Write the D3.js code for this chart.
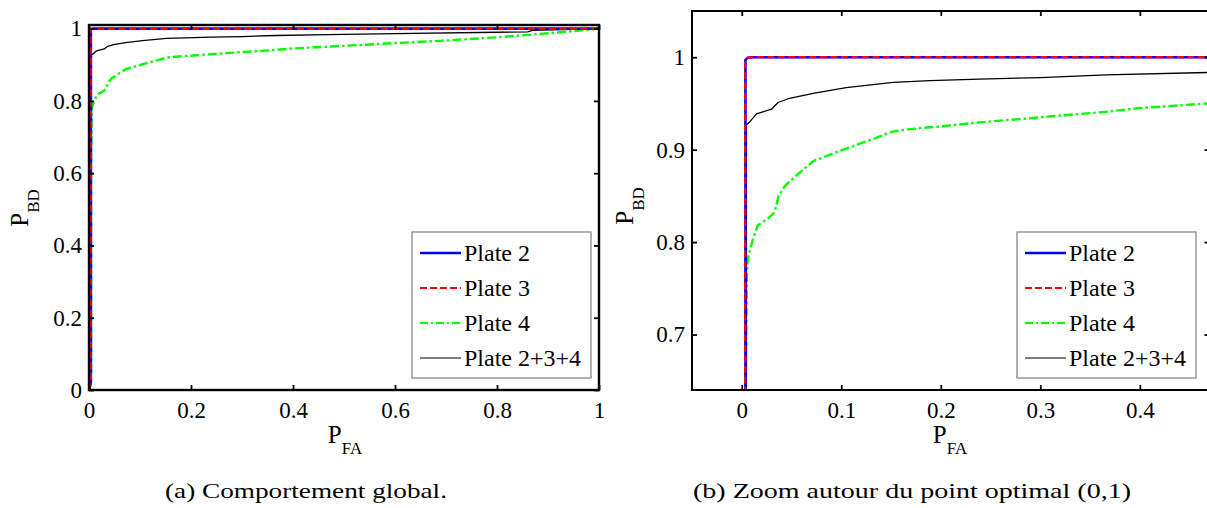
<!DOCTYPE html>
<html>
<head>
<meta charset="utf-8">
<script src="https://cdn.jsdelivr.net/npm/d3@7"></script>
<style>
  html, body { margin: 0; padding: 0; background: #fff; }
  svg { display: block; }
</style>
</head>
<body>
<svg id="chart" width="1207" height="508"></svg>
<script>
// ---------------- DATA ----------------
const seriesNames = ["Plate 2", "Plate 3", "Plate 4", "Plate 2+3+4"];

const plate2X = [0, 0.0037, 0.0037, 0.0037, 0.006, 0.010, 0.020, 0.5, 1];
const plate2Y = [0, 0.020, 0.900, 0.997, 0.9995, 1.000, 1.000, 1.000, 1];

const plate3X = [0, 0.0035, 0.0035, 0.0035, 0.006, 0.010, 0.020, 0.5, 1];
const plate3Y = [0, 0.020, 0.900, 0.997, 0.9995, 1.000, 1.000, 1.000, 1];

const plate4X = [0, 0.004, 0.004, 0.0045, 0.005, 0.006, 0.0103, 0.016, 0.0256, 0.033, 0.037, 0.0432, 0.0485,
                 0.0717, 0.1018, 0.132, 0.152, 0.169, 0.2057, 0.239, 0.300, 0.366, 0.400, 0.468,
                 0.600, 0.700, 0.800, 0.900, 0.950, 1];
const plate4Y = [0, 0.050, 0.640, 0.700, 0.760, 0.782, 0.800, 0.818, 0.825, 0.832, 0.850, 0.8605, 0.866,
                 0.8875, 0.900, 0.9115, 0.9197, 0.9222, 0.9258, 0.9295, 0.935, 0.941, 0.945, 0.950,
                 0.960, 0.967, 0.976, 0.987, 0.993, 1];

const plateAllX = [0, 0.0047, 0.0047, 0.008, 0.0148, 0.0298, 0.0365, 0.048, 0.0717, 0.105, 0.152, 0.189,
                   0.239, 0.300, 0.366, 0.468, 0.600, 0.800, 0.860, 0.870, 0.950, 1];
const plateAllY = [0, 0.050, 0.927, 0.930, 0.9387, 0.9438, 0.951, 0.9556, 0.961, 0.967, 0.9728, 0.9746,
                   0.9763, 0.978, 0.981, 0.9835, 0.986, 0.990, 0.991, 0.995, 0.998, 1];

// tick values and labels
const leftXTicks = [0, 0.2, 0.4, 0.6, 0.8, 1];
const leftXLabels = ["0", "0.2", "0.4", "0.6", "0.8", "1"];
const leftYTicks = [0, 0.2, 0.4, 0.6, 0.8, 1];
const leftYLabels = ["0", "0.2", "0.4", "0.6", "0.8", "1"];
const rightXTicks = [0, 0.1, 0.2, 0.3, 0.4];
const rightXLabels = ["0", "0.1", "0.2", "0.3", "0.4"];
const rightYTicks = [0.7, 0.8, 0.9, 1];
const rightYLabels = ["0.7", "0.8", "0.9", "1"];

const captions = ["(a) Comportement global.", "(b) Zoom autour du point optimal (0,1)"];

// ---------------- STYLES ----------------
const FONT = '"Liberation Serif", "Times New Roman", Tinos, serif';
const styles = [
  { color: "#0000ff", width: 2.6, dash: null },
  { color: "#ff0000", width: 2.2, dash: "7,3.5" },
  { color: "#00ff00", width: 2.4, dash: "9,3,2.5,3" },
  { color: "#000000", width: 1.3, dash: null }
];
const legendStyles = [
  { color: "#0000ff", width: 2.4, dash: null },
  { color: "#ff0000", width: 1.8, dash: "7,3" },
  { color: "#00ff00", width: 1.8, dash: "8,3,2,3" },
  { color: "#000000", width: 1.2, dash: null }
];

const seriesData = [
  d3.zip(plate2X, plate2Y),
  d3.zip(plate3X, plate3Y),
  d3.zip(plate4X, plate4Y),
  d3.zip(plateAllX, plateAllY)
];

const svg = d3.select("#chart");

function panel(cfg) {
  const x = d3.scaleLinear().domain(cfg.xDomain).range([cfg.left, cfg.right]);
  const y = d3.scaleLinear().domain(cfg.yDomain).range([cfg.bottom, cfg.top]);
  const g = svg.append("g");
  const clipId = "clip" + cfg.id;
  svg.append("clipPath").attr("id", clipId).append("rect")
    .attr("x", cfg.left).attr("y", cfg.top)
    .attr("width", cfg.right - cfg.left).attr("height", cfg.bottom - cfg.top);

  const line = d3.line().x(d => x(d[0])).y(d => y(d[1]));
  const plot = g.append("g").attr("clip-path", `url(#${clipId})`);
  [2, 3, 0, 1].forEach(i => {
    plot.append("path")
      .datum(seriesData[i])
      .attr("d", line)
      .attr("fill", "none")
      .attr("stroke", styles[i].color)
      .attr("stroke-width", styles[i].width)
      .attr("stroke-dasharray", styles[i].dash)
      .attr("stroke-linejoin", "round");
  });

  const tickLen = -5;
  const styleAxis = sel => {
    sel.select(".domain").remove();
    sel.selectAll(".tick line").attr("stroke", "#000").attr("stroke-width", 1.8);
    sel.selectAll(".tick text").attr("font-size", null)
      .style("font-size", cfg.tickFont + "px").style("font-family", FONT).attr("fill", "#000");
  };
  g.append("g").attr("transform", `translate(0,${cfg.bottom})`)
    .call(d3.axisBottom(x).tickValues(cfg.xTicks).tickFormat((d, i) => cfg.xLabels[i])
      .tickSizeInner(tickLen).tickSizeOuter(0).tickPadding(12))
    .call(styleAxis);
  g.append("g").attr("transform", `translate(0,${cfg.top})`)
    .call(d3.axisTop(x).tickValues(cfg.xTicks).tickFormat("").tickSizeInner(tickLen).tickSizeOuter(0))
    .call(styleAxis);
  g.append("g").attr("transform", `translate(${cfg.left},0)`)
    .call(d3.axisLeft(y).tickValues(cfg.yTicks).tickFormat((d, i) => cfg.yLabels[i])
      .tickSizeInner(tickLen).tickSizeOuter(0).tickPadding(7))
    .call(styleAxis);
  g.append("g").attr("transform", `translate(${cfg.right},0)`)
    .call(d3.axisRight(y).tickValues(cfg.yTicks).tickFormat("").tickSizeInner(tickLen).tickSizeOuter(0))
    .call(styleAxis);

  g.append("rect")
    .attr("x", cfg.left).attr("y", cfg.top)
    .attr("width", cfg.right - cfg.left).attr("height", cfg.bottom - cfg.top)
    .attr("fill", "none").attr("stroke", "#000").attr("stroke-width", cfg.boxWidth);

  const lg = g.append("g");
  lg.append("rect")
    .attr("x", cfg.legX).attr("y", cfg.legY).attr("width", cfg.legW).attr("height", cfg.legH)
    .attr("fill", "#fff").attr("stroke", "#808080").attr("stroke-width", 1.2);
  seriesNames.forEach((name, i) => {
    const cy = cfg.legY + 21 + i * 35;
    lg.append("line")
      .attr("x1", cfg.legX + 8).attr("x2", cfg.legX + 49)
      .attr("y1", cy).attr("y2", cy)
      .attr("stroke", legendStyles[i].color)
      .attr("stroke-width", legendStyles[i].width)
      .attr("stroke-dasharray", legendStyles[i].dash);
    lg.append("text")
      .attr("x", cfg.legX + 52).attr("y", cy).attr("dy", "0.34em")
      .style("font-family", FONT).style("font-size", "24px")
      .text(name);
  });

  const xl = svg.append("text")
    .attr("x", cfg.xLabX).attr("y", cfg.xLabY)
    .style("font-family", FONT).style("font-size", "25px")
    .attr("text-anchor", "middle");
  xl.append("tspan").text("P");
  xl.append("tspan").attr("dy", 11).style("font-size", "17px").text("FA");

  const yl = svg.append("text")
    .attr("transform", `translate(${cfg.yLabX},${cfg.yLabY}) rotate(-90)`)
    .style("font-family", FONT).style("font-size", "25px")
    .attr("text-anchor", "middle");
  yl.append("tspan").text("P");
  yl.append("tspan").attr("dy", 11).style("font-size", "17px").text("BD");

  svg.append("text")
    .attr("x", cfg.capX).attr("y", 498)
    .style("font-family", FONT).style("font-size", "22px")
    .attr("text-anchor", "middle")
    .attr("textLength", cfg.capW).attr("lengthAdjust", "spacingAndGlyphs")
    .text(cfg.caption);
}

panel({
  id: "a", xDomain: [0, 1], yDomain: [0, 1.01],
  left: 89, right: 599, top: 25, bottom: 390, boxWidth: 2.4,
  xTicks: leftXTicks, xLabels: leftXLabels, yTicks: leftYTicks, yLabels: leftYLabels,
  tickFont: 23,
  legX: 412, legY: 232, legW: 179, legH: 146,
  xLabX: 345, xLabY: 443, yLabX: 28, yLabY: 208,
  capX: 306, capW: 282, caption: captions[0]
});

panel({
  id: "b", xDomain: [-0.05, 0.47], yDomain: [0.64, 1.05],
  left: 692, right: 1209.5, top: 11, bottom: 390, boxWidth: 2,
  xTicks: rightXTicks, xLabels: rightXLabels, yTicks: rightYTicks, yLabels: rightYLabels,
  tickFont: 23,
  legX: 1017, legY: 232, legW: 179, legH: 146,
  xLabX: 950, xLabY: 443, yLabX: 633, yLabY: 206,
  capX: 912, capW: 438, caption: captions[1]
});
</script>
</body>
</html>
